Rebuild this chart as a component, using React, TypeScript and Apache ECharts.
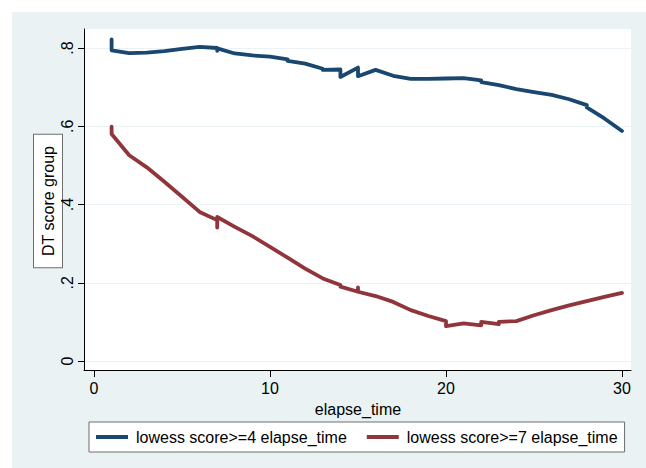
import React, { useEffect, useRef } from "react";
import * as echarts from "echarts";

// ---- data ----
const blueName = "lowess score>=4 elapse_time";
const blueX = [1, 1, 2, 3, 4, 5, 6, 7, 7, 7, 8, 9, 10, 11, 11, 12, 13, 13, 14, 14, 15, 15, 16, 17, 18, 19, 20, 21, 22, 22, 23, 24, 25, 26, 27, 28, 28, 29, 30];
const blueY = [0.822, 0.794, 0.787, 0.788, 0.792, 0.798, 0.803, 0.8, 0.793, 0.799, 0.786, 0.781, 0.778, 0.771, 0.767, 0.76, 0.747, 0.744, 0.745, 0.726, 0.75, 0.728, 0.744, 0.729, 0.721, 0.721, 0.722, 0.723, 0.717, 0.713, 0.705, 0.695, 0.687, 0.68, 0.669, 0.654, 0.648, 0.62, 0.588];

const redName = "lowess score>=7 elapse_time";
const redX = [1, 1, 2, 3, 4, 5, 6, 7, 7, 7, 8, 9, 10, 11, 12, 13, 14, 14, 15, 15, 15, 16, 17, 18, 19, 20, 20, 21, 22, 22, 23, 23, 24, 25, 26, 27, 28, 29, 30];
const redY = [0.599, 0.58, 0.526, 0.495, 0.458, 0.42, 0.381, 0.36, 0.341, 0.368, 0.343, 0.319, 0.292, 0.264, 0.236, 0.211, 0.194, 0.19, 0.177, 0.188, 0.177, 0.166, 0.151, 0.13, 0.115, 0.102, 0.089, 0.096, 0.091, 0.1, 0.094, 0.1, 0.102, 0.117, 0.13, 0.142, 0.153, 0.164, 0.174];

const xTickValues = [0, 10, 20, 30];
const xTickLabels = ["0", "10", "20", "30"];
const yTickValues = [0, 0.2, 0.4, 0.6, 0.8];
const yTickLabels = ["0", ".2", ".4", ".6", ".8"];

const xTitle = "elapse_time";
const yTitle = "DT score group";

// ---- layout / style ----
const FONT = "'Liberation Sans', Arial, Helvetica, sans-serif";
const BG = "#eaf2f3";
const BLUE = "#1a476f";
const RED = "#90353b";
const LINE_W = 3.8;

// outer plot region (chart coords)
const P = { left: 72, top: 17, right: 619, bottom: 358 };
// inner data region (tick extent)
const I = { left: 82, top: 36, right: 610, bottom: 349 };

const xMin = xTickValues[0];
const xMax = xTickValues[xTickValues.length - 1];
const yMin = yTickValues[0];
const yMax = yTickValues[yTickValues.length - 1];
const pxPerX = (I.right - I.left) / (xMax - xMin);
const pxPerY = (I.bottom - I.top) / (yMax - yMin);
const outerXMin = xMin - (I.left - P.left) / pxPerX;
const outerXMax = xMax + (P.right - I.right) / pxPerX;
const outerYMin = yMin - (P.bottom - I.bottom) / pxPerY;
const outerYMax = yMax + (I.top - P.top) / pxPerY;

const zip = (xs: number[], ys: number[]) => xs.map((x, i) => [x, ys[i]]);
const labelFor = (vals: number[], labels: string[]) => (v: number) => {
  const i = vals.findIndex((t) => Math.abs(t - v) < 1e-9);
  return i >= 0 ? labels[i] : "";
};

export default function App() {
  const ref = useRef<HTMLDivElement>(null);
  useEffect(() => {
    if (!ref.current) return;
    const chart = echarts.init(ref.current, undefined, { renderer: "svg" });
    const option: any = {
      animation: false,
      backgroundColor: BG,
      textStyle: { fontFamily: FONT },
      grid: [
        {
          left: P.left,
          top: P.top,
          width: P.right - P.left,
          height: P.bottom - P.top,
          show: true,
          backgroundColor: "#ffffff",
          borderWidth: 0,
        },
        {
          left: I.left,
          top: I.top,
          width: I.right - I.left,
          height: I.bottom - I.top,
          show: false,
        },
      ],
      graphic: [
        {
          type: "text",
          x: 36,
          y: 189,
          rotation: Math.PI / 2,
          silent: true,
          style: {
            text: yTitle,
            fill: "#000",
            fontSize: 16,
            fontFamily: FONT,
            lineHeight: 18,
            align: "center",
            verticalAlign: "middle",
            backgroundColor: "#ffffff",
            borderColor: "#6e6e6e",
            borderWidth: 1,
            padding: [5, 11],
          },
        },
      ],
      xAxis: [
        {
          gridIndex: 0,
          type: "value",
          min: outerXMin,
          max: outerXMax,
          axisLine: { show: true, onZero: false, lineStyle: { color: "#000", width: 1 } },
          axisTick: { show: false },
          axisLabel: { show: false },
          splitLine: { show: false },
        },
        {
          gridIndex: 1,
          type: "value",
          min: xMin,
          max: xMax,
          interval: 10,
          offset: P.bottom - I.bottom,
          axisLine: { show: false, onZero: false },
          axisTick: { show: true, length: 7, lineStyle: { color: "#000", width: 1 } },
          axisLabel: {
            show: true,
            margin: 10,
            color: "#000",
            fontSize: 16,
            fontFamily: FONT,
            formatter: labelFor(xTickValues, xTickLabels),
          },
          splitLine: { show: false },
          name: xTitle,
          nameLocation: "middle",
          nameGap: 31,
          nameMoveOverlap: false,
          nameTextStyle: { color: "#000", fontSize: 16, fontFamily: FONT },
        },
      ],
      yAxis: [
        {
          gridIndex: 0,
          type: "value",
          min: outerYMin,
          max: outerYMax,
          axisLine: { show: true, onZero: false, lineStyle: { color: "#000", width: 1 } },
          axisTick: { show: false },
          axisLabel: { show: false },
          splitLine: { show: false },
        },
        {
          gridIndex: 1,
          type: "value",
          min: yMin,
          max: yMax,
          interval: 0.2,
          offset: I.left - P.left,
          axisLine: { show: false, onZero: false },
          axisTick: { show: true, length: 6, lineStyle: { color: "#000", width: 1 } },
          axisLabel: {
            show: true,
            rotate: 90,
            margin: 9,
            color: "#000",
            fontSize: 16,
            fontFamily: FONT,
            formatter: labelFor(yTickValues, yTickLabels),
          },
          splitLine: { show: false },
        },
      ],
      legend: {
        show: true,
        data: [blueName, redName],
        left: P.left + 5,
        top: 410,
        orient: "horizontal",
        backgroundColor: "#ffffff",
        borderColor: "#6e6e6e",
        borderWidth: 1,
        borderRadius: 0,
        padding: [6, 7],
        icon: "rect",
        itemWidth: 32,
        itemHeight: 4,
        itemGap: 20,
        textStyle: { color: "#000", fontSize: 16, fontFamily: FONT, lineHeight: 18, padding: [0, 0, 0, 3] },
      },
      series: [
        {
          type: "line",
          name: "grid",
          xAxisIndex: 0,
          yAxisIndex: 0,
          data: [],
          silent: true,
          z: 0,
          markLine: {
            silent: true,
            z: 0,
            symbol: ["none", "none"],
            label: { show: false },
            lineStyle: { color: BG, width: 1.2, type: "solid" },
            data: yTickValues.map((v) => ({ yAxis: v })),
          },
        },
        {
          type: "line",
          name: blueName,
          xAxisIndex: 1,
          yAxisIndex: 1,
          data: zip(blueX, blueY),
          showSymbol: false,
          symbol: "none",
          clip: false,
          z: 6,
          itemStyle: { color: BLUE },
          lineStyle: { color: BLUE, width: LINE_W, cap: "round", join: "round" },
        },
        {
          type: "line",
          name: redName,
          xAxisIndex: 1,
          yAxisIndex: 1,
          data: zip(redX, redY),
          showSymbol: false,
          symbol: "none",
          clip: false,
          z: 6,
          itemStyle: { color: RED },
          lineStyle: { color: RED, width: LINE_W, cap: "round", join: "round" },
        },
      ],
    };
    chart.setOption(option);
    return () => chart.dispose();
  }, []);

  return (
    <div style={{ position: "absolute", left: 0, top: 0, width: 646, height: 468, background: "#ffffff" }}>
      <div ref={ref} style={{ position: "absolute", left: 12, top: 12, width: 634, height: 456 }} />
    </div>
  );
}
